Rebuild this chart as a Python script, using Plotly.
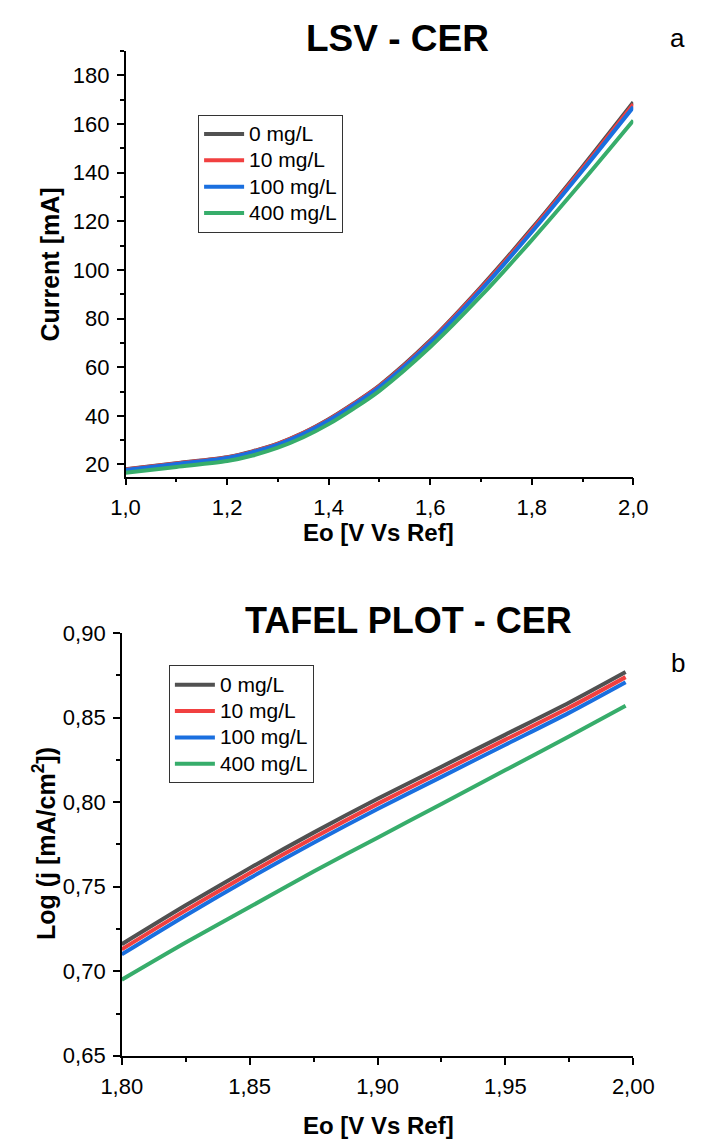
import plotly.graph_objects as go

# ---------------- data ----------------
series_names = ["0 mg/L", "10 mg/L", "100 mg/L", "400 mg/L"]
series_colors = ["#515151", "#F14040", "#1A6FDF", "#37AD6B"]

lsv_e = [1.0, 1.1, 1.2, 1.25, 1.3, 1.35, 1.4, 1.45, 1.5, 1.6, 1.7, 1.8, 1.9, 2.0]
lsv_0 = [18.0, 20.5, 23.0, 25.4, 28.6, 33.0, 38.6, 45.2, 52.5, 71.0, 93.0, 117.0, 142.5, 169.0]
lsv_10 = [17.9, 20.4, 22.9, 25.3, 28.5, 32.9, 38.4, 45.0, 52.2, 70.6, 92.5, 116.4, 141.8, 168.2]
lsv_100 = [17.7, 20.2, 22.7, 25.1, 28.2, 32.6, 38.1, 44.6, 51.8, 70.1, 91.8, 115.6, 140.9, 167.0]
lsv_400 = [16.6, 19.0, 21.4, 23.7, 26.9, 31.2, 36.6, 43.1, 50.3, 68.3, 89.3, 112.3, 136.5, 161.5]

tafel_e = [1.80, 1.825, 1.85, 1.875, 1.90, 1.925, 1.95, 1.975, 1.997]
tafel_0 = [0.716, 0.739, 0.761, 0.782, 0.802, 0.821, 0.840, 0.859, 0.877]
tafel_10 = [0.713, 0.736, 0.758, 0.779, 0.799, 0.818, 0.837, 0.856, 0.874]
tafel_100 = [0.710, 0.733, 0.755, 0.776, 0.796, 0.815, 0.834, 0.853, 0.871]
tafel_400 = [0.695, 0.717, 0.738, 0.759, 0.779, 0.799, 0.819, 0.839, 0.857]

lsv_series = [lsv_0, lsv_10, lsv_100, lsv_400]
tafel_series = [tafel_0, tafel_10, tafel_100, tafel_400]

W, H = 724, 1148
FONT = "Liberation Sans, Arial, sans-serif"

fig = go.Figure()

def legend_label(name):
    # render legend text slightly larger than the row pitch font
    return f'<span style="font-size:21px">{name}</span>'

for name, col, ys in zip(series_names, series_colors, lsv_series):
    fig.add_trace(go.Scatter(x=lsv_e, y=ys, mode="lines", name=legend_label(name),
                             line=dict(color=col, width=4, shape="spline", smoothing=0.8),
                             xaxis="x", yaxis="y", legend="legend"))
for name, col, ys in zip(series_names, series_colors, tafel_series):
    fig.add_trace(go.Scatter(x=tafel_e, y=ys, mode="lines", name=legend_label(name),
                             line=dict(color=col, width=4, shape="spline", smoothing=0.8),
                             xaxis="x2", yaxis="y2", legend="legend2"))

def px_x(p):
    return p / W

def px_y(p):
    return 1 - p / H

axis_common = dict(showline=True, linecolor="black", linewidth=1.5, mirror=False,
                   showgrid=False, zeroline=False, ticks="outside", ticklen=7,
                   tickwidth=1.5, tickcolor="black", ticklabelstandoff=3,
                   tickfont=dict(family=FONT, size=22, color="black"))

minor_common = dict(ticks="outside", ticklen=4, tickcolor="black", tickwidth=1.5)

legend_common = dict(xanchor="left", yanchor="top",
                     bordercolor="#333333", borderwidth=1, bgcolor="white",
                     font=dict(family=FONT, size=18, color="black"),
                     tracegroupgap=0, itemwidth=40)

fig.update_layout(
    width=W, height=H, margin=dict(l=0, r=0, t=0, b=0),
    paper_bgcolor="white", plot_bgcolor="white",
    separators=", ",
    font=dict(family=FONT, color="black"),
    xaxis=dict(domain=[px_x(111), px_x(650)], range=[1.0, 2.0], dtick=0.2, tick0=1.0,
               tickformat=".1f", anchor="y",
               minor=dict(dtick=0.1, **minor_common), **axis_common),
    yaxis=dict(domain=[px_y(475), px_y(40)], range=[15, 190], dtick=20, tick0=0,
               anchor="x",
               minor=dict(dtick=10, **minor_common), **axis_common),
    xaxis2=dict(domain=[px_x(107), px_x(650)], range=[1.80, 2.00], dtick=0.05, tick0=1.8,
                tickformat=".2f", anchor="y2",
                minor=dict(dtick=0.025, **minor_common), **axis_common),
    yaxis2=dict(domain=[px_y(1067), px_y(635)], range=[0.65, 0.90], dtick=0.05, tick0=0.65,
                tickformat=".2f", anchor="x2",
                minor=dict(dtick=0.025, **minor_common), **axis_common),
    legend=dict(x=px_x(188), y=px_y(105), **legend_common),
    legend2=dict(x=px_x(157), y=px_y(668), **legend_common),
    showlegend=True,
)

def ann(text, x, y, size, bold=False, angle=0):
    fig.add_annotation(text=f"<b>{text}</b>" if bold else text,
                       x=px_x(x), y=px_y(y), xref="paper", yref="paper",
                       xanchor="center", yanchor="middle", showarrow=False,
                       textangle=angle,
                       font=dict(family=FONT, size=size, color="black"))

ann("LSV - CER", 400, 27, 37, bold=True)
ann("a", 697, 27, 26)
ann("Eo [V Vs Ref]", 380, 532, 24, bold=True)
ann("Current [mA]", 31, 258, 25, bold=True, angle=-90)

ann("TAFEL PLOT - CER", 411, 622, 36, bold=True)
ann("b", 697, 665, 26)
ann("Eo [V Vs Ref]", 380, 1138, 24, bold=True)
ann("Log (j [mA/cm<sup>2</sup>])", 25, 850, 25, bold=True, angle=-90)

fig.write_html("out.html")
